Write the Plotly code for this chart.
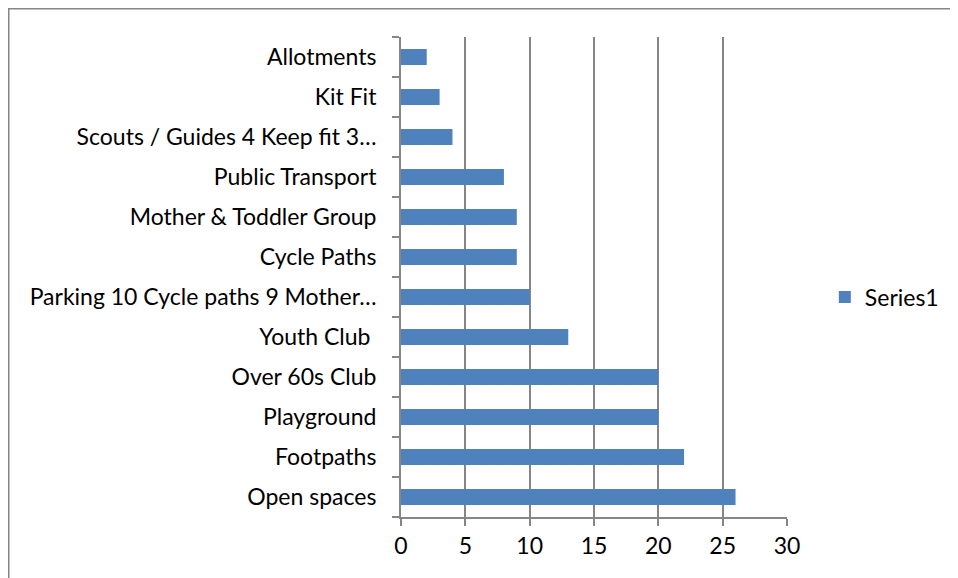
import plotly.graph_objects as go

categories = ["Open spaces", "Footpaths", "Playground", "Over 60s Club", "Youth Club ",
              "Parking 10 Cycle paths 9 Mother…", "Cycle Paths", "Mother & Toddler Group",
              "Public Transport", "Scouts / Guides 4 Keep fit 3…", "Kit Fit", "Allotments"]
values = [26, 22, 20, 20, 13, 10, 9, 9, 8, 4, 3, 2]
x_ticks = [0, 5, 10, 15, 20, 25, 30]

# page body has an 8px margin, so the figure is drawn 8px in from the window corner
W, H = 950, 570
L, R, T, B = 393, 779, 29, 509

fig = go.Figure()
fig.add_trace(go.Bar(
    x=values, y=categories, orientation="h", name="Series1",
    marker=dict(color="#4F81BD", line=dict(width=0)),
))

fig.update_layout(
    width=W, height=H,
    margin=dict(l=L, r=W - R, t=T, b=H - B, pad=0),
    paper_bgcolor="white", plot_bgcolor="white",
    font=dict(family="Lato, Carlito, sans-serif", size=23, color="black"),
    bargap=0.6,
    showlegend=True,
    legend=dict(x=1.098, y=0.458, xanchor="left", yanchor="middle",
                font=dict(size=23), bgcolor="rgba(0,0,0,0)"),
    xaxis=dict(range=[0, 30], tickvals=x_ticks, showgrid=True, gridcolor="#868686", gridwidth=2,
               showline=True, linecolor="#868686", linewidth=2, ticks="outside",
               ticklen=7, tickcolor="#868686", tickwidth=2, zeroline=False,
               fixedrange=True),
    yaxis=dict(categoryorder="array", categoryarray=categories, showline=True,
               linecolor="#868686", linewidth=2, ticks="outside", ticklen=7,
               tickcolor="#868686", tickwidth=2, tickson="boundaries",
               showgrid=False, ticklabelstandoff=18, fixedrange=True),
    shapes=[dict(type="rect", xref="paper", yref="paper",
                 x0=(0.5 - L) / (R - L), x1=(W + 20 - L) / (R - L),
                 y0=(B - (H + 20)) / (B - T), y1=(B - 0.5) / (B - T),
                 line=dict(color="#868686", width=2), layer="below")],
)

fig.write_html("out.html")
